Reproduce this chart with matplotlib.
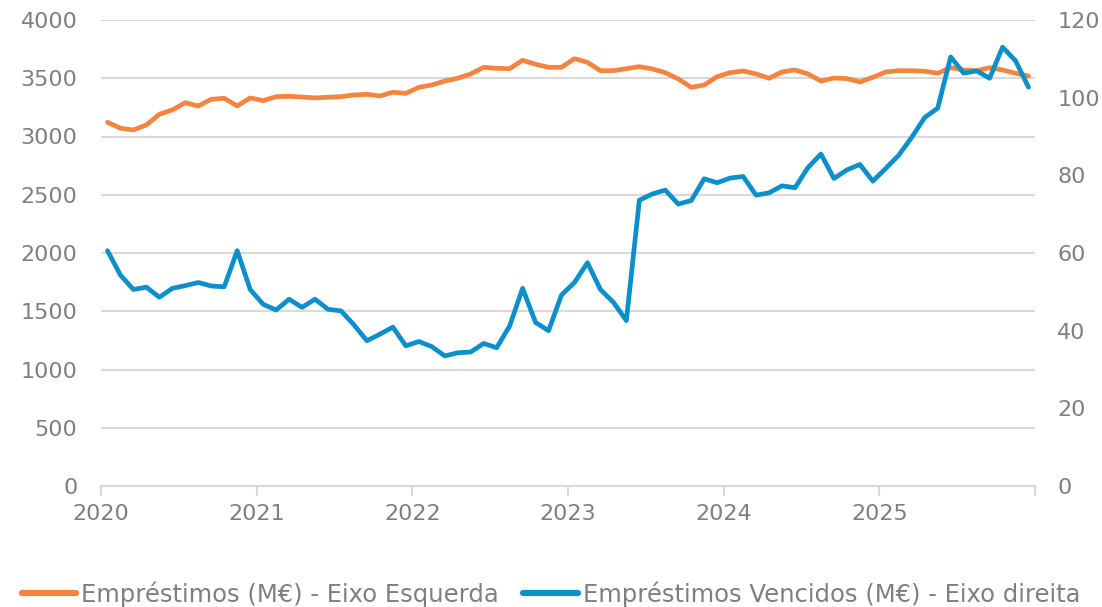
import matplotlib
matplotlib.use("Agg")
import matplotlib.pyplot as plt
from matplotlib.lines import Line2D

years = ["2020", "2021", "2022", "2023", "2024", "2025"]

emprestimos = [
    3122, 3071, 3056, 3099, 3191, 3228, 3290, 3262, 3319, 3328, 3262, 3331,
    3308, 3342, 3345, 3339, 3331, 3337, 3342, 3356, 3362, 3348, 3380, 3370,
    3422, 3442, 3476, 3500, 3537, 3594, 3585, 3582, 3654, 3620, 3594, 3594,
    3668, 3637, 3565, 3565, 3582, 3600, 3580, 3548, 3494, 3422, 3442, 3514,
    3548, 3562, 3537, 3500, 3554, 3571, 3537, 3476, 3502, 3497, 3468, 3508,
    3554, 3565, 3565, 3560, 3543, 3591, 3571, 3565, 3591, 3571, 3543, 3520,
]

vencidos = [
    60.6, 54.3, 50.6, 51.2, 48.6, 50.9, 51.6, 52.4, 51.5, 51.3, 60.6, 50.6,
    46.8, 45.3, 48.1, 46.0, 48.1, 45.5, 45.1, 41.5, 37.4, 39.1, 40.9, 36.1,
    37.2, 35.9, 33.5, 34.3, 34.5, 36.7, 35.6, 41.2, 50.9, 42.1, 40.0, 49.2,
    52.4, 57.5, 50.6, 47.3, 42.6, 73.6, 75.2, 76.2, 72.6, 73.5, 79.1, 78.1,
    79.3, 79.7, 74.9, 75.5, 77.3, 76.8, 82.0, 85.5, 79.2, 81.4, 82.8, 78.5,
    81.8, 85.2, 89.8, 94.9, 97.3, 110.5, 106.3, 106.9, 105.0, 113.0, 109.5, 102.7,
]

label_left = "Empréstimos (M€) - Eixo Esquerda"
label_right = "Empréstimos Vencidos (M€) - Eixo direita"

orange = "#F5843F"
blue = "#0C8FCB"
grey_text = "#7F7F7F"
grid_col = "#D9D9D9"

plt.rcParams["font.family"] = ["DejaVu Sans"]

W, H = 1102, 607
fig = plt.figure(figsize=(W / 100, H / 100), dpi=100)
ax = fig.add_axes([101 / W, 1 - 486 / H, (1035 - 101) / W, (486 - 20) / H])
ax2 = ax.twinx()

x = [i + 0.5 for i in range(len(emprestimos))]

ax.set_xlim(0, 72)
ax.set_ylim(0, 4000)
ax2.set_ylim(0, 120)
ax.set_yticks(range(0, 4001, 500))
ax2.set_yticks(range(0, 121, 20))
ax.grid(axis="y", color=grid_col, linewidth=1.5)
ax.set_axisbelow(True)

ax.set_xticks(range(0, 73, 12))
ax.set_xticklabels(years + [""])

for a in (ax, ax2):
    for s in ("top", "left", "right", "bottom"):
        a.spines[s].set_visible(False)

ax.spines["bottom"].set_visible(True)
ax.spines["bottom"].set_color(grid_col)
ax.spines["bottom"].set_linewidth(1.5)

ax.tick_params(axis="x", colors=grid_col, length=7, width=1.5, labelcolor=grey_text,
               labelsize=16, pad=6)
ax.tick_params(axis="y", length=0, labelcolor=grey_text, labelsize=16, pad=17)
ax2.tick_params(axis="y", length=0, labelcolor=grey_text, labelsize=16, pad=16)

ax.plot(x, emprestimos, color=orange, linewidth=3.4, solid_joinstyle="round",
        solid_capstyle="round", zorder=3)
ax2.plot(x, vencidos, color=blue, linewidth=3.4, solid_joinstyle="round",
         solid_capstyle="round", zorder=3)

handles = [
    Line2D([0], [0], color=orange, linewidth=4.5, solid_capstyle="round"),
    Line2D([0], [0], color=blue, linewidth=4.5, solid_capstyle="round"),
]
leg = fig.legend(handles, [label_left, label_right], loc="center",
                 bbox_to_anchor=(0.5, 1 - 594 / H), ncol=2, frameon=False,
                 fontsize=17.5, handlelength=2.25, handletextpad=0.2,
                 columnspacing=1.0, labelcolor=grey_text)

fig.savefig("out.png", dpi=100)
